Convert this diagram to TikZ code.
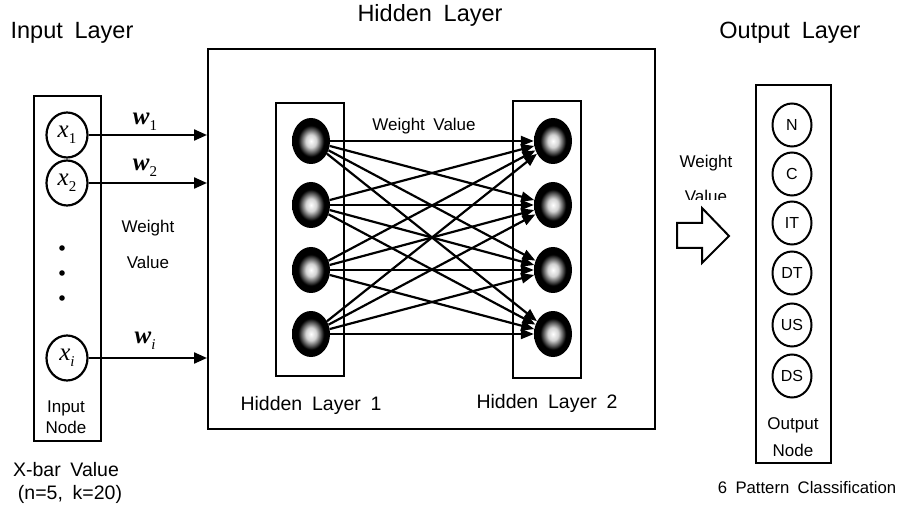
\documentclass[tikz,border=0pt]{standalone}
\usepackage{fontspec}
\setmainfont{Liberation Sans}[WordSpace=1.8]
\newfontfamily\mathser{Liberation Serif}
\usetikzlibrary{arrows.meta,shapes.geometric}
\pgfdeclareradialshading{ballshade}{\pgfpoint{0bp}{0bp}}{color(0bp)=(white); color(7bp)=(gray!35); color(17bp)=(black); color(50bp)=(black)}
\newcommand{\vx}[1]{{\mathser\itshape x}\raisebox{-0.25em}{\fontsize{15}{17}\selectfont\mathser #1}}
\newcommand{\vw}[1]{{\mathser\bfseries\itshape w}\raisebox{-0.25em}{\fontsize{15}{17}\selectfont\mathser #1}}
\tikzset{
  bigtxt/.style={font=\fontsize{23.5}{26}\selectfont, inner sep=0pt},
  hltxt/.style={font=\fontsize{19.5}{22}\selectfont, inner sep=0pt},
  midtxt/.style={font=\fontsize{17}{20}\selectfont, inner sep=0pt},
  bottxt/.style={font=\fontsize{19.5}{22}\selectfont, inner sep=0pt},
  pattxt/.style={font=\fontsize{16.7}{20}\selectfont, inner sep=0pt},
  mathtxt/.style={font=\fontsize{25}{27}\selectfont, inner sep=0pt},
  frame/.style={draw, line width=2.4pt, inner sep=0pt},
  innode/.style={draw, ellipse, line width=2.2pt, minimum width=41, minimum height=45, inner sep=0pt, font=\fontsize{25}{27}\selectfont},
  outnode/.style={draw, ellipse, line width=2pt, minimum width=39, minimum height=43, inner sep=0pt, font=\fontsize{16}{19}\selectfont},
  hnode/.style={ellipse, minimum width=38, minimum height=46, inner sep=0pt, shading=ballshade},
  arr/.style={line width=2.2pt, -{Triangle[length=13pt,width=11pt]}},
  harr/.style={line width=2.2pt, -{Triangle[length=13pt,width=10pt]}},
}
\begin{document}
\begin{tikzpicture}[x=1pt,y=-1pt]
\useasboundingbox (0,0) rectangle (900,513);
% titles
\node[bigtxt] (tin) at (72,33) {Input Layer};
\node[bigtxt] (thid) at (430,15) {Hidden Layer};
\node[bigtxt] (tout) at (790,33) {Output Layer};
% input box
\node[frame, anchor=north west, minimum width=67, minimum height=345] (inbox) at (33,95) {};
\node[innode] (x1) at (67,135) {\vx{1}};
\node[innode] (x2) at (67,183) {\vx{2}};
\node[innode] (xi) at (67,358) {\vx{\itshape i}};
\fill (62,248) circle (2.8) (62,273) circle (2.8) (62,298) circle (2.8);
\node[midtxt] (inlab1) at (66,408) {Input};
\node[midtxt] (inlab2) at (66,427) {Node};
\node[bottxt] (xbar1) at (66,470) {X-bar Value};
\node[bottxt] (xbar2) at (70,494) {(n=5,\ k=20)};
% hidden box
\node[frame, anchor=north west, minimum width=447, minimum height=380] (hid) at (207,48) {};
\draw[arr] (x1) -- (x1 -| hid.west);
\draw[arr] (x2) -- (x2 -| hid.west);
\draw[arr] (xi) -- (xi -| hid.west);
\node[mathtxt] (w1) at (145,122) {\vw{1}};
\node[mathtxt] (w2) at (145,168) {\vw{2}};
\node[mathtxt] (wi) at (145,341) {\vw{\itshape i}};
\node[midtxt] (wv1) at (148,228) {Weight};
\node[midtxt] (wv2) at (148,262) {Value};
% hidden layer boxes
\node[frame, anchor=north west, minimum width=68, minimum height=273] (l1box) at (275,102) {};
\node[frame, anchor=north west, minimum width=68, minimum height=277] (l2box) at (512,100) {};
\foreach \i/\y in {1/141,2/205,3/270,4/334}{
  \node[hnode] (a\i) at (311,\y) {};
  \node[hnode] (b\i) at (553,\y) {};
}
\foreach \i in {1,...,4}{
  \foreach \j in {1,...,4}{
    \draw[harr] (a\i) -- (b\j);
  }
}
\node[midtxt] (hwv) at (424,126) {Weight Value};
\node[hltxt] (hl1) at (311,405) {Hidden Layer 1};
\node[hltxt] (hl2) at (547,403) {Hidden Layer 2};
% block arrow
\draw[line width=2pt, line join=miter] (677,223) -- (702,223) -- (702,208) -- (729,236) -- (702,263) -- (702,248) -- (677,248) -- cycle;
\node[midtxt] (owv1) at (706,163) {Weight};
\begin{scope}
  \clip (660,180) rectangle (760,200);
  \node[midtxt] (owv2) at (706,196) {Value};
\end{scope}
% output box
\node[frame, anchor=north west, minimum width=75, minimum height=378] (outbox) at (755,84) {};
\foreach \n/\t/\y in {on/N/125,oc/C/174,oit/IT/223,odt/DT/273,ous/US/325,ods/DS/376}{
  \node[outnode] (\n) at (792,\y) {\t};
}
\node[midtxt] (olab1) at (793,425) {Output};
\node[midtxt] (olab2) at (793,450) {Node};
\node[pattxt] (pat) at (807,488) {6 Pattern Classification};
\end{tikzpicture}
\end{document}
